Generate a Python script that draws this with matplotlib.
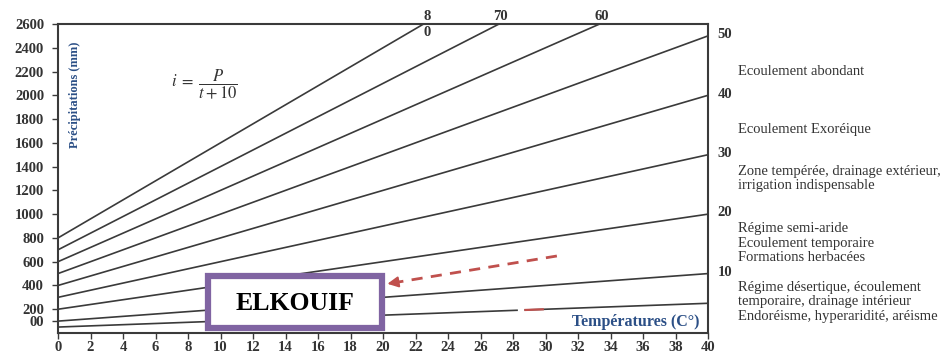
import numpy as np
import matplotlib
matplotlib.use("Agg")
import matplotlib.pyplot as plt
from matplotlib.patches import Rectangle

plt.rcParams['font.family'] = ['Liberation Serif', 'DejaVu Serif']
plt.rcParams['mathtext.fontset'] = 'stix'

# De Martonne index lines: P = i * (t + 10)
indices = [5, 10, 20, 30, 40, 50, 60, 70, 80]
temps = np.array([0, 40])

x_ticks = list(range(0, 41, 2))
y_ticks = [100] + list(range(200, 2601, 200))
y_labels = ['00'] + [str(v) for v in range(200, 2601, 200)]

right_labels = [10, 20, 30, 40, 50]
top_labels = [60, 70]

zones = [
    ("Ecoulement abondant", 2204),
    ("Ecoulement Exoréique", 1716),
    ("Zone tempérée, drainage extérieur,\nirrigation indispensable", 1300),
    ("Régime semi-aride\nEcoulement temporaire\nFormations herbacées", 757),
    ("Régime désertique, écoulement\ntemporaire, drainage intérieur\nEndoréisme, hyperaridité, aréisme", 261),
]

# station box and arrow (data coords)
station_name = "ELKOUIF"
box_t = [9.25, 19.95]
box_p = [42, 480]
arrow_from = (30.7, 648)
arrow_to = (20.1, 410)
# short red stroke on the i = 5 line
red_stroke_t = [28.7, 29.9]

line_col = '#3a3a3a'
text_col = '#333333'
blue = '#2b4f86'
red = '#c0504d'

fig = plt.figure(figsize=(9.42, 3.53), dpi=100)
ax = fig.add_axes([58 / 942, 20 / 353, 650 / 942, 309 / 353])

for i in indices:
    ax.plot(temps, i * (temps + 10), color=line_col, lw=1.2, zorder=2)

# gap + red stroke on the lowest line
rs = np.array(red_stroke_t)
ax.plot([rs[0] - 0.4, rs[0]], 5 * (np.array([rs[0] - 0.4, rs[0]]) + 10),
        color='white', lw=2.5, zorder=3, solid_capstyle='butt')
ax.plot(rs, 5 * (rs + 10), color=red, lw=1.6, zorder=3, solid_capstyle='butt')

ax.set_xlim(0, 40)
ax.set_ylim(0, 2600)

ax.set_xticks(x_ticks)
ax.set_xticklabels([str(v) for v in x_ticks])
ax.set_yticks(y_ticks)
ax.set_yticklabels(y_labels)
ax.tick_params(direction='out', length=4, width=1, color=line_col,
               labelsize=10.5, labelcolor=text_col, pad=2)
for lab in ax.get_xticklabels() + ax.get_yticklabels():
    lab.set_fontweight('bold')
ax.tick_params(axis='y', pad=6)

for s in ax.spines.values():
    s.set_color(line_col)
    s.set_linewidth(1.5)

# index labels on right border
for i in right_labels:
    ax.text(40.6, i * 50 + 10, str(i), fontsize=10.5, fontweight='bold',
            color=text_col, va='center', ha='left', clip_on=False)

# index labels on top border
for i in top_labels:
    ax.text(2600 / i - 10 + 0.1, 2665, str(i), fontsize=10.5, fontweight='bold',
            color=text_col, va='center', ha='center', clip_on=False)
t80 = 2600 / 80 - 10
ax.text(t80 + 0.2, 2665, "8", fontsize=10.5, fontweight='bold', color=text_col,
        va='center', ha='center', clip_on=False)
ax.text(t80 + 0.2, 2530, "0", fontsize=10.5, fontweight='bold', color=text_col,
        va='center', ha='center', clip_on=False)

# zone descriptions
for txt, p in zones:
    ax.text(41.85, p, txt, fontsize=10.5, color=text_col, va='center', ha='left',
            linespacing=1.15, clip_on=False)

# formula
ax.text(9.0, 2090, r'$i\;=\;\dfrac{P}{t+10}$', fontsize=12, color=text_col,
        ha='center', va='center')

# axis titles inside the frame
ax.text(1.05, 2000, "Précipitations (mm)", rotation=90, fontsize=9,
        fontweight='bold', color=blue, ha='center', va='center')
ax.text(39.5, 93, "Températures (C°)", fontsize=11.5, fontweight='bold',
        color=blue, ha='right', va='center')

# station box
ax.add_patch(Rectangle((box_t[0], box_p[0]), box_t[1] - box_t[0], box_p[1] - box_p[0],
                       facecolor='white', edgecolor='#8064a2', lw=4.5, zorder=5,
                       clip_on=False))
ax.text(sum(box_t) / 2, sum(box_p) / 2 - 10, station_name, fontsize=18.5,
        fontweight='bold', color='black', ha='center', va='center', zorder=6)

# dashed arrow pointing to the box
ax.plot([arrow_from[0], arrow_to[0] + 0.8], [arrow_from[1], arrow_to[1] + 18],
        color=red, lw=2, ls=(0, (4, 3)), zorder=4)
ax.annotate('', xy=arrow_to, xytext=(arrow_to[0] + 1.0, arrow_to[1] + 23),
            arrowprops=dict(arrowstyle='-|>', color=red, lw=1.5,
                            mutation_scale=16), zorder=4)

fig.savefig('out.png', dpi=100)
